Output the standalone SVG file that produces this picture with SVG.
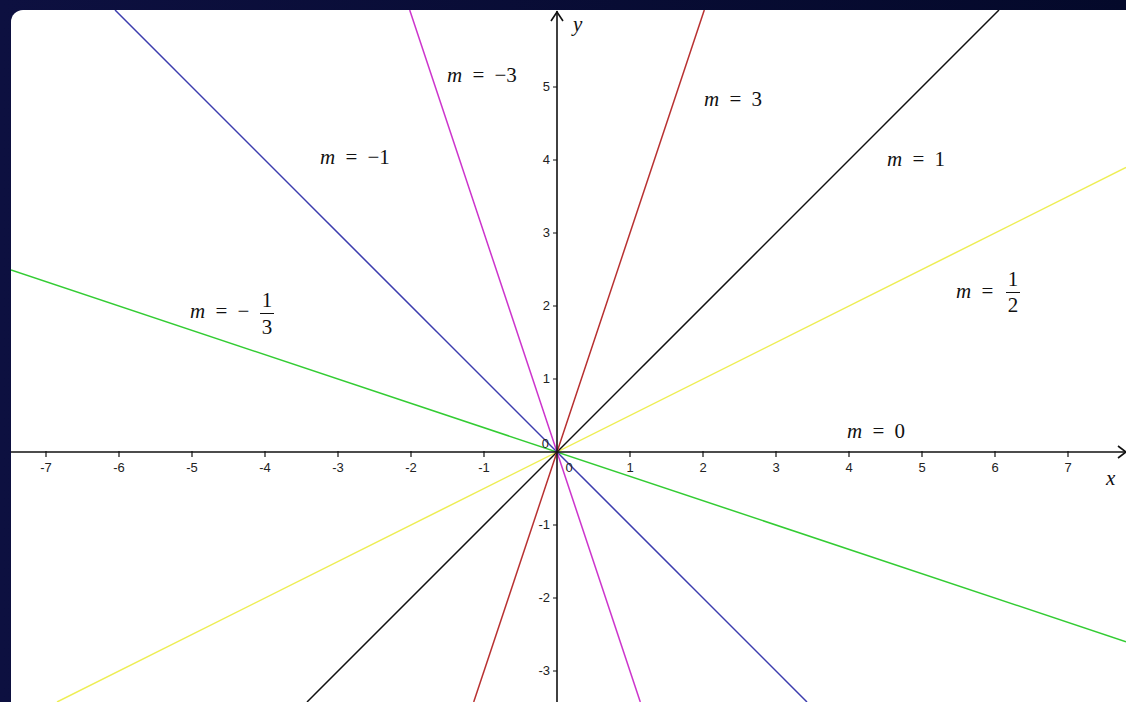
<svg xmlns="http://www.w3.org/2000/svg" width="1126" height="702" viewBox="0 0 1126 702">
<defs>
<linearGradient id="bg" x1="0" y1="0" x2="1" y2="0">
<stop offset="0" stop-color="#0d1040"/>
<stop offset="1" stop-color="#04092a"/>
</linearGradient>
<clipPath id="plot"><rect x="11" y="10" width="1200" height="800" rx="12"/></clipPath>
<style>
.ax{stroke:#111;stroke-width:1.6;fill:none}
.tk{stroke:#111;stroke-width:1.2}
.ln{stroke-width:1.5;fill:none}
.tl{font-family:"Liberation Sans",Arial,sans-serif;font-size:13px;fill:#222}
.tx{text-anchor:middle}
.ty{text-anchor:end}
.mt{font-family:"Liberation Serif","Times New Roman",serif;font-size:21px;fill:#111;word-spacing:5px}
.it{font-style:italic}
.fr{stroke:#111;stroke-width:1}
</style>
</defs>
<rect width="1126" height="702" fill="url(#bg)"/>
<rect x="11" y="10" width="1200" height="800" rx="12" fill="#fff"/>
<g clip-path="url(#plot)">
<g id="lines">
<line id="m-third" class="ln" stroke="#33cc33" x1="11" y1="270" x2="1126" y2="641.7"/>
<line id="m-half" class="ln" stroke="#eeee55" x1="57" y1="702" x2="1126" y2="167.5"/>
<line id="m-neg1" class="ln" stroke="#3c3cae" x1="115" y1="10" x2="807" y2="702"/>
<line id="m-1" class="ln" stroke="#111" x1="307" y1="702" x2="999" y2="10"/>
<line id="m-3" class="ln" stroke="#b83030" x1="473.7" y1="702" x2="704.3" y2="10"/>
<line id="m-neg3" class="ln" stroke="#cc33cc" x1="409.7" y1="10" x2="640.3" y2="702"/>
</g>
<g id="axes">
<line class="ax" x1="11" y1="452" x2="1126" y2="452"/>
<line class="ax" x1="557" y1="702" x2="557" y2="11"/>
<polyline class="ax" points="551,21 557,12 563,21"/>
<polyline class="ax" points="1118,446 1126,452 1118,458"/>
</g>
</g>
<g id="xticks">
<path class="tk" d="M46 451v6M119 451v6M192 451v6M265 451v6M338 451v6M411 451v6M484 451v6M630 451v6M703 451v6M776 451v6M849 451v6M922 451v6M995 451v6M1068 451v6"/>
<text class="tl tx" x="46" y="472">-7</text>
<text class="tl tx" x="119" y="472">-6</text>
<text class="tl tx" x="192" y="472">-5</text>
<text class="tl tx" x="265" y="472">-4</text>
<text class="tl tx" x="338" y="472">-3</text>
<text class="tl tx" x="411" y="472">-2</text>
<text class="tl tx" x="484" y="472">-1</text>
<text class="tl tx" x="569" y="472">0</text>
<text class="tl tx" x="630" y="472">1</text>
<text class="tl tx" x="703" y="472">2</text>
<text class="tl tx" x="776" y="472">3</text>
<text class="tl tx" x="849" y="472">4</text>
<text class="tl tx" x="922" y="472">5</text>
<text class="tl tx" x="995" y="472">6</text>
<text class="tl tx" x="1068" y="472">7</text>
</g>
<g id="yticks">
<path class="tk" d="M553 87h4M553 160h4M553 233h4M553 306h4M553 379h4M553 525h4M553 598h4M553 671h4"/>
<text class="tl ty" x="550" y="91">5</text>
<text class="tl ty" x="550" y="164">4</text>
<text class="tl ty" x="550" y="237">3</text>
<text class="tl ty" x="550" y="310">2</text>
<text class="tl ty" x="550" y="383">1</text>
<text class="tl ty" x="549" y="448">0</text>
<text class="tl ty" x="550" y="529">-1</text>
<text class="tl ty" x="550" y="602">-2</text>
<text class="tl ty" x="550" y="675">-3</text>
</g>
<g id="axis-labels">
<text class="mt it" x="1106" y="485" font-size="18">x</text>
<text class="mt it" x="573" y="31" font-size="18">y</text>
</g>
<g id="label-neg3"><text class="mt" x="447" y="82"><tspan class="it">m</tspan> = −3</text></g>
<g id="label-3"><text class="mt" x="704" y="106"><tspan class="it">m</tspan> = 3</text></g>
<g id="label-neg1"><text class="mt" x="320" y="164"><tspan class="it">m</tspan> = −1</text></g>
<g id="label-1"><text class="mt" x="887" y="166"><tspan class="it">m</tspan> = 1</text></g>
<g id="label-half">
<text class="mt" x="956" y="298"><tspan class="it">m</tspan> =</text>
<text class="mt tx" x="1013" y="286" font-size="19">1</text>
<line class="fr" x1="1006" y1="292.5" x2="1020" y2="292.5"/>
<text class="mt tx" x="1013" y="312" font-size="19">2</text>
</g>
<g id="label-neg-third">
<text class="mt" x="190" y="318"><tspan class="it">m</tspan> = −</text>
<text class="mt tx" x="267" y="307" font-size="19">1</text>
<line class="fr" x1="260" y1="313.5" x2="274" y2="313.5"/>
<text class="mt tx" x="267" y="334" font-size="19">3</text>
</g>
<g id="label-0"><text class="mt" x="847" y="438"><tspan class="it">m</tspan> = 0</text></g>
</svg>
